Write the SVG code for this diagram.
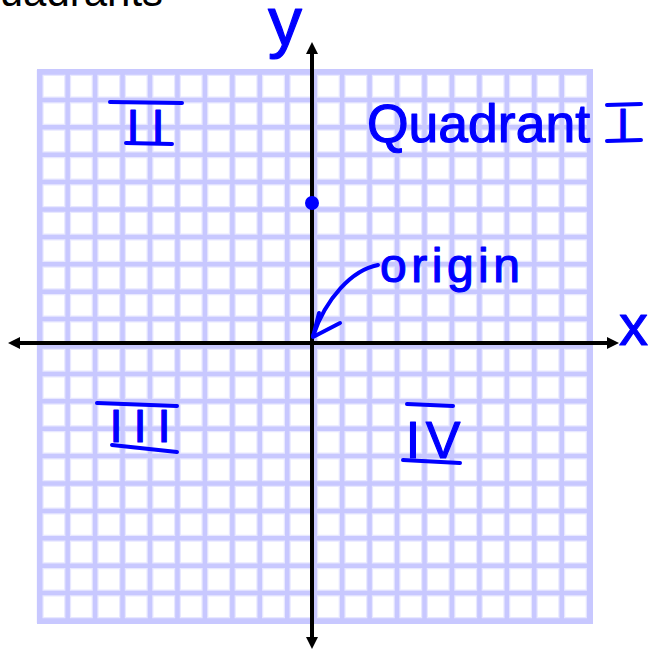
<svg xmlns="http://www.w3.org/2000/svg" width="648" height="652" viewBox="0 0 648 652">
<style>
.halo{stroke:#e8e8ff;stroke-width:7;fill:none}
.grid{stroke:#c8c8ff;stroke-width:4.5;fill:none}
.axis{stroke:#000;stroke-width:4;fill:none}
.hand{fill:#0000ff;stroke:#0000ff;stroke-width:1.2;stroke-linejoin:round;font-family:"Liberation Sans",Arial,sans-serif}
.pen{stroke:#0000ff;stroke-width:4;fill:none;stroke-linecap:round;stroke-linejoin:round}
.title{fill:#000;font-family:"Liberation Sans",Arial,sans-serif;font-size:42px}
</style>
<defs>
<marker id="arr" viewBox="0 0 12 12" refX="0" refY="6" markerWidth="12" markerHeight="12" markerUnits="userSpaceOnUse" orient="auto-start-reverse">
<path d="M0,0 L12,6 L0,12 z" fill="#000"/>
</marker>
</defs>
<rect width="648" height="652" fill="#fff"/>
<text class="title" x="-33" y="5.5">Quadrants</text>
<g id="grid">
<path class="halo" d="M40.2,70V623M67.65,70V623M95.1,70V623M122.55,70V623M150,70V623M177.45,70V623M204.9,70V623M232.35,70V623M259.8,70V623M287.25,70V623M314.7,70V623M342.15,70V623M369.6,70V623M397.05,70V623M424.5,70V623M451.95,70V623M479.4,70V623M506.85,70V623M534.3,70V623M561.75,70V623M589.2,70V623M38,72.5H592M38,99.9H592M38,127.3H592M38,154.7H592M38,182.1H592M38,209.5H592M38,236.9H592M38,264.3H592M38,291.7H592M38,319.1H592M38,346.5H592M38,373.9H592M38,401.3H592M38,428.7H592M38,456.1H592M38,483.5H592M38,510.9H592M38,538.3H592M38,565.7H592M38,593.1H592M38,620.5H592"/>
<path class="grid" d="M40.2,70V623M67.65,70V623M95.1,70V623M122.55,70V623M150,70V623M177.45,70V623M204.9,70V623M232.35,70V623M259.8,70V623M287.25,70V623M314.7,70V623M342.15,70V623M369.6,70V623M397.05,70V623M424.5,70V623M451.95,70V623M479.4,70V623M506.85,70V623M534.3,70V623M561.75,70V623M589.2,70V623M38,72.5H592M38,99.9H592M38,127.3H592M38,154.7H592M38,182.1H592M38,209.5H592M38,236.9H592M38,264.3H592M38,291.7H592M38,319.1H592M38,346.5H592M38,373.9H592M38,401.3H592M38,428.7H592M38,456.1H592M38,483.5H592M38,510.9H592M38,538.3H592M38,565.7H592M38,593.1H592M38,620.5H592"/>
<rect x="38" y="70" width="554" height="553" fill="none" stroke="#c8c8ff" stroke-width="2"/>
</g>
<g id="connectors">
<line id="x-axis" class="axis" x1="20" y1="343" x2="607" y2="343" marker-start="url(#arr)" marker-end="url(#arr)"/>
<line id="y-axis" class="axis" x1="312" y1="637" x2="312" y2="54" marker-start="url(#arr)" marker-end="url(#arr)"/>
<g id="origin-arrow">
<path class="pen" d="M378,265 C352,270 326,298 313,336"/>
<path class="pen" d="M319,313 L313,337 L340,323"/>
</g>
</g>
<g id="point"><circle cx="312" cy="203" r="7" fill="#0000ff"/></g>
<g id="label-y"><text class="hand" x="268" y="45" font-size="68">y</text></g>
<g id="label-x"><text class="hand" x="619" y="345" font-size="58">x</text></g>
<g id="label-origin"><text class="hand" x="380" y="282" font-size="48" textLength="140" lengthAdjust="spacing">origin</text></g>
<g id="quadrant-1">
<text class="hand" x="367" y="142" font-size="54" textLength="223" lengthAdjust="spacingAndGlyphs">Quadrant</text>
<text class="hand" x="623" y="140" font-size="45" text-anchor="middle">I</text>
<path class="pen" d="M607,105 L641,104 M607,141 L641,140"/>
</g>
<g id="quadrant-2">
<text class="hand" x="133 158" y="142" font-size="47" text-anchor="middle">II</text>
<path class="pen" d="M110,102 L182,103 M126,143 L172,144"/>
</g>
<g id="quadrant-3">
<text class="hand" x="116 140 164" y="442" font-size="47" text-anchor="middle">III</text>
<path class="pen" d="M97,403 L177,406 M112,445 L177,452"/>
</g>
<g id="quadrant-4">
<text class="hand" x="413 443" y="458" font-size="52" text-anchor="middle">IV</text>
<path class="pen" d="M407,404 L453,406 M403,460 L460,463"/>
</g>
</svg>
